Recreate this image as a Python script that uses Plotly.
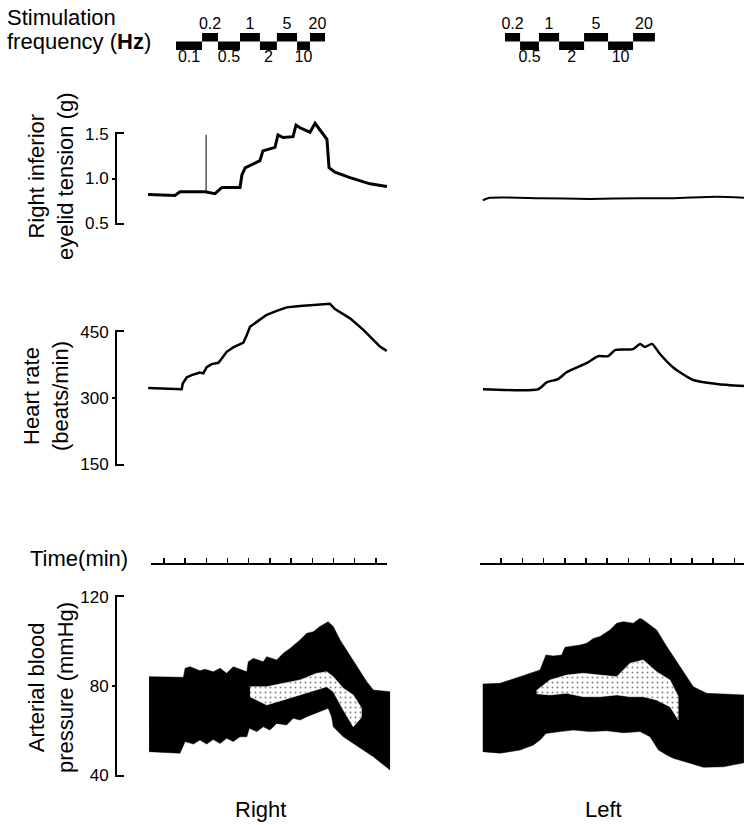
import plotly.graph_objects as go

W, H = 744, 825
PX_PER_MIN = 21.2
FONT = "Liberation Sans, Arial, Helvetica, sans-serif"

# ---------------- data (time in minutes from start of each record) ----------------
stim_right_freq = ["0.1", "0.2", "0.5", "1", "2", "5", "10", "20"]
stim_right_edges = [1.32, 2.55, 3.30, 4.34, 5.28, 6.08, 7.03, 7.64, 8.35]
stim_right_level = [0, 1, 0, 1, 0, 1, 0, 1]
stim_left_freq = ["0.2", "0.5", "1", "2", "5", "10", "20"]
stim_left_edges = [1.18, 1.89, 2.78, 3.73, 4.91, 6.04, 7.22, 8.25]
stim_left_level = [1, 0, 1, 0, 1, 0, 1]

tension_right_t = [0, 1.27, 1.51, 2.69, 3.16, 3.49, 4.34, 4.43, 4.58, 5.05, 5.28, 5.42, 5.99, 6.13,
                   6.37, 6.84, 6.98, 7.17, 7.64, 7.88, 8.11, 8.44, 8.54, 8.82, 9.53, 10.47, 11.27]
tension_right_g = [0.82, 0.81, 0.85, 0.85, 0.83, 0.90, 0.90, 1.04, 1.12, 1.18, 1.20, 1.31, 1.35, 1.49,
                   1.46, 1.47, 1.60, 1.57, 1.52, 1.62, 1.55, 1.44, 1.12, 1.07, 1.01, 0.94, 0.91]
spike_right_t = [2.74, 2.74]
spike_right_g = [0.85, 1.49]
tension_left_t = [0.13, 0.47, 2.83, 5.19, 7.55, 9.10, 11.17, 12.45]
tension_left_g = [0.756, 0.783, 0.779, 0.771, 0.779, 0.779, 0.794, 0.783]

hr_right_t = [0.01, 1.59, 1.64, 1.83, 2.06, 2.45, 2.61, 2.77, 3.00, 3.32, 3.48, 3.71, 4.02, 4.50,
              4.66, 4.81, 5.13, 5.60, 6.07, 6.54, 7.17, 8.58, 8.82, 9.53, 10.16, 10.63, 10.94, 11.26]
hr_right_bpm = [323, 320, 333, 347, 352, 358, 356, 370, 377, 380, 390, 405, 415, 426,
                443, 462, 473, 489, 498, 506, 509, 514, 502, 481, 455, 432, 417, 407]
hr_left_t = [0.14, 2.74, 3.16, 3.68, 4.10, 5.05, 5.57, 6.04, 6.37, 7.22, 7.55, 7.78, 8.11, 8.49,
             9.10, 10.05, 11.18, 12.45]
hr_left_bpm = [320, 320, 336, 343, 359, 380, 395, 395, 409, 411, 423, 416, 423, 400,
               370, 341, 332, 327]

time_ticks_right = [0.75, 1.75, 2.75, 3.75, 4.75, 5.75, 6.75, 7.75, 8.75, 9.75, 10.75]
time_ticks_left = [0, 1, 2, 3, 4, 5, 6, 7, 8, 9, 10, 11, 12]

bp_right_sys_t = [0.05, 1.67, 1.75, 1.98, 2.45, 2.69, 3.08, 3.40, 3.71, 4.02, 4.66, 4.73, 4.97, 5.44,
                  5.60, 6.07, 6.38, 6.70, 7.17, 7.49, 7.80, 8.11, 8.50, 8.74, 9.06, 9.68, 10.32, 10.63, 11.42]
bp_right_sys = [84.2, 83.9, 88.0, 88.7, 86.9, 87.5, 86.4, 88.0, 85.7, 88.7, 86.4, 90.9, 92.4, 90.9,
                93.2, 91.7, 94.7, 96.9, 100.7, 103.7, 104.4, 106.7, 108.9, 106.7, 100.7, 91.7, 81.9, 78.2, 77.4]
bp_right_dia_t = [0.05, 1.51, 1.75, 2.14, 2.45, 2.77, 3.08, 3.40, 3.71, 4.02, 4.34, 4.66, 4.78, 5.13, 5.44,
                  5.75, 6.07, 6.54, 6.85, 7.17, 7.49, 7.96, 8.35, 8.50, 8.66, 8.74, 9.21, 10.0, 10.63, 11.42]
bp_right_dia = [50.5, 49.8, 55.0, 53.9, 55.7, 53.9, 56.0, 54.2, 56.5, 55.0, 57.2, 57.2, 61.0, 59.5, 61.7,
                60.2, 63.2, 62.5, 65.5, 64.7, 66.2, 68.0, 69.2, 70.0, 66.2, 61.7, 57.2, 52.0, 48.2, 42.2]
bp_right_gap_t = [4.81, 5.60, 6.38, 7.17, 7.96, 8.43, 8.74, 9.21, 9.68, 10.08]
bp_right_gap_hi = [79.7, 79.7, 81.2, 82.7, 85.7, 86.4, 84.2, 79.0, 76.0, 70.0]
bp_right_gap_lo = [75.2, 71.5, 73.7, 76.0, 78.2, 79.7, 77.4, 69.2, 61.7, 66.0]

bp_left_sys_t = [0.13, 0.94, 1.89, 2.83, 3.11, 3.46, 3.85, 4.01, 4.72, 5.03, 5.35, 5.66, 6.13, 6.45,
                 6.76, 7.23, 7.55, 7.70, 8.02, 8.33, 8.81, 9.12, 9.75, 10.06, 10.69, 11.48, 12.45]
bp_left_sys = [80.9, 81.2, 84.2, 87.2, 93.9, 93.5, 93.9, 97.4, 98.4, 99.2, 101.4, 102.2, 105.2, 108.2,
               108.9, 108.2, 110.4, 109.7, 107.4, 105.2, 97.7, 93.2, 84.2, 79.7, 76.7, 76.4, 76.0]
bp_left_dia_t = [0.13, 0.94, 1.89, 2.52, 2.83, 3.11, 3.77, 4.40, 5.19, 5.97, 6.76, 7.55, 8.02, 8.42,
                 8.81, 9.12, 9.91, 10.53, 11.48, 12.45]
bp_left_dia = [50.5, 49.8, 51.2, 53.5, 55.7, 58.7, 59.5, 60.2, 59.5, 59.9, 59.0, 59.5, 57.2, 51.2,
               49.0, 47.5, 45.3, 43.5, 43.7, 45.5]
bp_left_gap_t = [2.67, 3.30, 4.09, 4.87, 5.66, 6.45, 7.08, 7.70, 8.33, 8.96, 9.36]
bp_left_gap_hi = [78.0, 82.7, 84.9, 85.7, 84.9, 84.2, 90.2, 91.7, 86.4, 82.7, 75.2]
bp_left_gap_lo = [76.5, 76.0, 76.7, 75.2, 75.2, 76.0, 75.2, 75.2, 73.7, 70.7, 64.7]

tension_ticks = [0.5, 1.0, 1.5]
hr_ticks = [150, 300, 450]
bp_ticks = [40, 80, 120]

# ---------------- layout helpers (pixels -> paper) ----------------
def xdom(p0, p1):
    return [p0 / W, p1 / W]

def ydom(p_top, p_bot):
    return [1 - p_bot / H, 1 - p_top / H]

def yrange(p_top, p_bot, v_hi, p_hi, v_lo, p_lo):
    per_px = (v_hi - v_lo) / (p_lo - p_hi)
    return [v_lo - (p_bot - p_lo) * per_px, v_hi + (p_hi - p_top) * per_px]

RIGHT_PX = (148, 392)
LEFT_PX = (480, 744)
SPINE_X = 117
END_TICK = 7

fig = go.Figure()

def add_stim(edges, levels, freqs, xa):
    mids = [(a + b) / 2 for a, b in zip(edges[:-1], edges[1:])]
    widths = [b - a for a, b in zip(edges[:-1], edges[1:])]
    fig.add_trace(go.Bar(x=mids, y=[1] * len(mids), base=levels, width=widths,
                         marker=dict(color="black", line=dict(width=0)),
                         xaxis=xa, yaxis="y", hoverinfo="skip"))
    fig.add_trace(go.Scatter(x=mids, y=[2 * l for l in levels], mode="text", text=freqs,
                             textposition=["top center" if l else "bottom center" for l in levels],
                             textfont=dict(family=FONT, size=16, color="black"),
                             cliponaxis=False, xaxis=xa, yaxis="y", hoverinfo="skip"))

add_stim(stim_right_edges, stim_right_level, stim_right_freq, "x")
add_stim(stim_left_edges, stim_left_level, stim_left_freq, "x2")

def line(x, y, xa, ya, w, shape="linear"):
    fig.add_trace(go.Scatter(x=x, y=y, mode="lines",
                             line=dict(color="black", width=w, shape=shape, smoothing=0.6),
                             xaxis=xa, yaxis=ya, hoverinfo="skip"))

line(tension_right_t, tension_right_g, "x", "y2", 3)
line(spike_right_t, spike_right_g, "x", "y2", 1)
line(tension_left_t, tension_left_g, "x2", "y2", 2, "spline")
line(hr_right_t, hr_right_bpm, "x", "y3", 2.5)
line(hr_left_t, hr_left_bpm, "x2", "y3", 2.5, "spline")

def band(t_lo, lo, t_hi, hi, xa, color, pattern=None):
    fig.add_trace(go.Scatter(x=t_lo, y=lo, mode="lines", line=dict(color=color, width=0.5),
                             xaxis=xa, yaxis="y5", hoverinfo="skip"))
    kw = {}
    if pattern:
        kw["fillpattern"] = pattern
    fig.add_trace(go.Scatter(x=t_hi, y=hi, mode="lines", line=dict(color=color, width=0.5),
                             fill="tonexty", fillcolor=color, xaxis=xa, yaxis="y5",
                             hoverinfo="skip", **kw))

speck = dict(shape=".", bgcolor="white", fgcolor="black", size=5, solidity=0.12)
band(bp_right_dia_t, bp_right_dia, bp_right_sys_t, bp_right_sys, "x", "black")
band(bp_right_gap_t, bp_right_gap_lo, bp_right_gap_t, bp_right_gap_hi, "x", "white", speck)
band(bp_left_dia_t, bp_left_dia, bp_left_sys_t, bp_left_sys, "x2", "black")
band(bp_left_gap_t, bp_left_gap_lo, bp_left_gap_t, bp_left_gap_hi, "x2", "white", speck)

# invisible carriers so the time-line and bracket axes exist as subplots
def carrier(x, y, xa, ya):
    fig.add_trace(go.Scatter(x=x, y=y, mode="lines", line=dict(width=0), opacity=0,
                             xaxis=xa, yaxis=ya, hoverinfo="skip", showlegend=False))

carrier(time_ticks_right, [0.5] * len(time_ticks_right), "x3", "y4")
carrier(time_ticks_left, [0.5] * len(time_ticks_left), "x4", "y4")

hidden = dict(visible=False, showgrid=False, zeroline=False, fixedrange=True)

layout = dict(
    width=W, height=H, margin=dict(l=0, r=0, t=0, b=0, autoexpand=False),
    paper_bgcolor="white", plot_bgcolor="rgba(0,0,0,0)",
    showlegend=False, hovermode=False, barmode="overlay",
    font=dict(family=FONT, color="black"),
    xaxis=dict(hidden, domain=xdom(*RIGHT_PX), range=[0, (RIGHT_PX[1] - RIGHT_PX[0]) / PX_PER_MIN], anchor="y"),
    xaxis2=dict(hidden, domain=xdom(*LEFT_PX), range=[0, (LEFT_PX[1] - LEFT_PX[0]) / PX_PER_MIN], anchor="y"),
    yaxis=dict(hidden, domain=ydom(33, 50), range=[0, 2], anchor="x"),
    yaxis2=dict(hidden, domain=ydom(95, 240), range=yrange(95, 240, 1.5, 134, 0.5, 223), anchor="x"),
    yaxis3=dict(hidden, domain=ydom(280, 480), range=yrange(280, 480, 450, 332, 150, 464), anchor="x"),
    yaxis4=dict(hidden, domain=ydom(548, 563), range=[0, 1], anchor="x3"),
    yaxis5=dict(hidden, domain=ydom(580, 792), range=yrange(580, 792, 120, 597, 40, 775), anchor="x"),
)

time_axis = dict(showline=True, linecolor="black", linewidth=1.5, ticks="inside", ticklen=5,
                 tickwidth=1.5, tickcolor="black", showticklabels=False, showgrid=False,
                 zeroline=False, anchor="y4", tickmode="array", fixedrange=True)
layout["xaxis3"] = dict(time_axis, domain=xdom(151, 387),
                        range=[(151 - RIGHT_PX[0]) / PX_PER_MIN, (387 - RIGHT_PX[0]) / PX_PER_MIN],
                        tickvals=time_ticks_right)
layout["xaxis4"] = dict(time_axis, domain=xdom(*LEFT_PX),
                        range=[0, (LEFT_PX[1] - LEFT_PX[0]) / PX_PER_MIN], tickvals=time_ticks_left)

# bracket axes: y spine with labels + short mirrored x line giving the inward end ticks,
# plus a second y axis carrying the single outward middle tick
def bracket(n, ticks, fmt, p_top, p_bot, cx, cy):
    ya, yb = str(n), str(n + 1)
    xa, xb = str(n), str(n + 1)
    base = dict(side="left", domain=ydom(p_top, p_bot), range=[ticks[0], ticks[-1]],
                showgrid=False, zeroline=False, tickmode="array", fixedrange=True)
    layout["xaxis" + xa] = dict(domain=xdom(SPINE_X, SPINE_X + END_TICK), range=[0, 1], anchor="y" + ya,
                                showline=True, mirror=True, linecolor="black", linewidth=2,
                                ticks="", showticklabels=False, showgrid=False, zeroline=False,
                                fixedrange=True)
    layout["xaxis" + xb] = dict(hidden, domain=xdom(SPINE_X, SPINE_X + END_TICK), range=[0, 1],
                                anchor="y" + yb)
    layout["yaxis" + ya] = dict(base, anchor="x" + xa, showline=True, linecolor="black", linewidth=2,
                                ticks="", tickvals=ticks, ticktext=[fmt(v) for v in ticks],
                                tickfont=dict(family=FONT, size=17, color="black"),
                                ticklabelstandoff=3)
    layout["yaxis" + yb] = dict(base, anchor="x" + xb, showline=False, ticks="outside", ticklen=4,
                                tickwidth=2, tickcolor="black", tickvals=[ticks[1]],
                                showticklabels=False)
    carrier(cx, cy, "x" + xa, "y" + ya)
    carrier(cx, cy, "x" + xb, "y" + yb)

bracket(6, tension_ticks, lambda v: f"{v:.1f}", 134, 223, tension_right_t, tension_right_g)
bracket(8, hr_ticks, lambda v: f"{v:d}", 332, 464, hr_right_t, hr_right_bpm)
bracket(10, bp_ticks, lambda v: f"{v:d}", 597, 775, bp_right_sys_t, bp_right_sys)

def ann(text, px, py, xanchor="center", angle=0, size=22):
    return dict(text=text, x=px / W, y=1 - py / H, xref="paper", yref="paper", showarrow=False,
                xanchor=xanchor, yanchor="middle", textangle=angle,
                font=dict(family=FONT, size=size, color="black"))

layout["annotations"] = [
    ann("Stimulation", 5, 17, "left"),
    ann("frequency (<b>Hz</b>)", 5, 42, "left"),
    ann("Right inferior<br>eyelid tension (g)", 51, 176, angle=-90),
    ann("Heart rate<br>(beats/min)", 46, 396, angle=-90),
    ann("Time(min)", 28, 558, "left"),
    ann("Arterial blood<br>pressure (mmHg)", 51, 687, angle=-90),
    ann("Right", 260, 809),
    ann("Left", 603, 809),
]

fig.update_layout(layout)
fig.write_html("out.html", config={"displayModeBar": False, "staticPlot": True},
               post_script="document.body.style.margin='0px';document.body.style.overflow='hidden';")
